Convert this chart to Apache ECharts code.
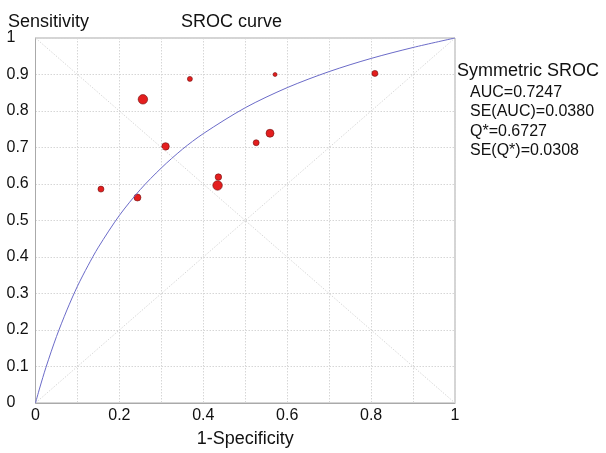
<!DOCTYPE html>
<html><head><meta charset="utf-8">
<script src="https://cdn.jsdelivr.net/npm/echarts@6/dist/echarts.min.js"></script>
<style>html,body{margin:0;padding:0;background:#fff}#c{width:606px;height:453px}</style>
</head><body><div id="c"></div>
<script>
// Study points (1-Specificity, Sensitivity) and marker sizes (px diameter)
const studyFPR  = [0.156, 0.243, 0.256, 0.310, 0.368, 0.436, 0.434, 0.526, 0.559, 0.571, 0.809];
const studyTPR  = [0.586, 0.563, 0.832, 0.703, 0.888, 0.619, 0.596, 0.713, 0.739, 0.900, 0.903];
const studySize = [6, 7, 9.5, 7.5, 5, 6.5, 9.5, 6, 8, 4, 6];
// SROC curve
const curveX = [0, 0.01, 0.025, 0.05, 0.075, 0.1, 0.125, 0.15, 0.2, 0.25, 0.3, 0.35, 0.4, 0.5, 0.6, 0.7, 0.8, 0.9, 1];
const curveY = [0, 0.041, 0.098, 0.182, 0.255, 0.32, 0.376, 0.427, 0.514, 0.585, 0.644, 0.695, 0.738, 0.809, 0.864, 0.908, 0.944, 0.974, 1];
const diagUp = [[0, 0], [1, 1]];
const diagDown = [[0, 1], [1, 0]];
const statsTitle = 'Symmetric SROC';
const statsLines = ['AUC=0.7247', 'SE(AUC)=0.0380', 'Q*=0.6727', 'SE(Q*)=0.0308'];

const FONT = '"Liberation Sans", Arial, sans-serif';
const chart = echarts.init(document.getElementById('c'), null, {renderer: 'canvas'});
const gridLine = {show: true, lineStyle: {color: '#d6d6d6', type: [1.5, 1.5], width: 1}};
chart.setOption({
  animation: false,
  backgroundColor: '#fff',
  title: [
    {text: 'SROC curve', left: 176, top: 8, textStyle: {fontFamily: FONT, fontSize: 18, fontWeight: 'normal', color: '#111'}},
    {text: 'Sensitivity', left: 3, top: 8, textStyle: {fontFamily: FONT, fontSize: 18, fontWeight: 'normal', color: '#111'}},
    {text: statsTitle, left: 452, top: 57, textStyle: {fontFamily: FONT, fontSize: 18, fontWeight: 'normal', color: '#111'}},
    {text: statsLines.join('\n'), left: 465, top: 78, textStyle: {fontFamily: FONT, fontSize: 16, lineHeight: 19.3, fontWeight: 'normal', color: '#111'}}
  ],
  grid: {left: 35.5, right: 151, top: 38, bottom: 42, show: true, borderColor: '#aaa', borderWidth: 1},
  xAxis: {
    type: 'value', min: 0, max: 1, interval: 0.2,
    name: '1-Specificity', nameLocation: 'middle', nameGap: 27,
    nameTextStyle: {fontFamily: FONT, fontSize: 18, color: '#111'},
    axisLine: {show: true, lineStyle: {color: '#aaa'}},
    axisTick: {show: false},
    axisLabel: {fontFamily: FONT, fontSize: 16, color: '#111', margin: 5},
    splitLine: gridLine,
    minorTick: {show: false, splitNumber: 2},
    minorSplitLine: gridLine
  },
  yAxis: {
    type: 'value', min: 0, max: 1, interval: 0.1,
    axisLine: {show: true, lineStyle: {color: '#aaa'}},
    axisTick: {show: false},
    axisLabel: {fontFamily: FONT, fontSize: 16, color: '#111', align: 'left', margin: 29},
    splitLine: gridLine
  },
  series: [
    {type: 'line', data: diagUp, symbol: 'none', lineStyle: {color: '#d8d8d8', width: 1, type: [1.5, 1.5]}, silent: true},
    {type: 'line', data: diagDown, symbol: 'none', lineStyle: {color: '#d8d8d8', width: 1, type: [1.5, 1.5]}, silent: true},
    {type: 'line', data: curveX.map((x, i) => [x, curveY[i]]), symbol: 'none', smooth: 0.3,
     lineStyle: {color: '#6b6bc8', width: 1}},
    {type: 'scatter', data: studyFPR.map((x, i) => [x, studyTPR[i], studySize[i]]),
     symbolSize: d => d[2],
     itemStyle: {color: '#e41e1e', opacity: 1, borderColor: '#6e1010', borderWidth: 0.6}}
  ]
});
</script></body></html>
